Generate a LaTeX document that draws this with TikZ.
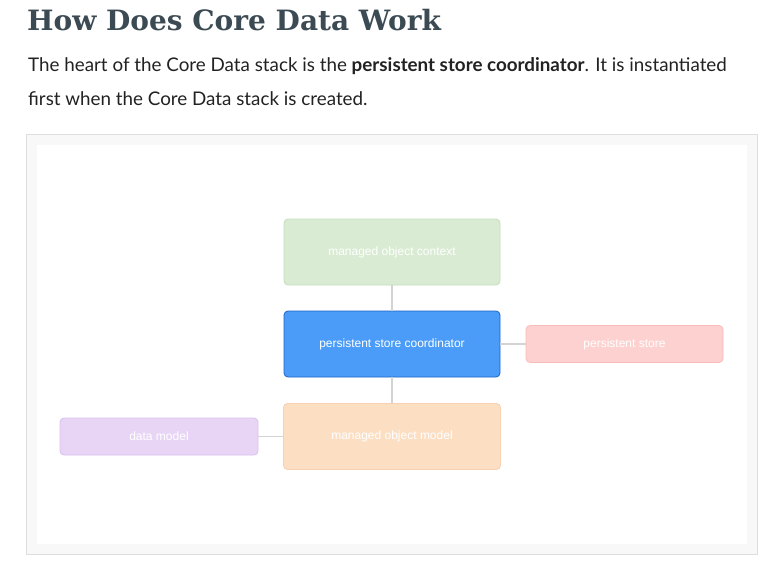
\documentclass[tikz,border=0pt]{standalone}
\usepackage{fontspec}
\setmainfont{Lato}
\newfontfamily\titlefont{DejaVu Serif}
\newfontfamily\boxfont{Liberation Sans}
\definecolor{titlecol}{HTML}{3B4A53}
\definecolor{textcol}{HTML}{222222}
\definecolor{framecol}{HTML}{DCDFE2}
\definecolor{panelbg}{HTML}{F8F8F8}
\definecolor{linkcol}{HTML}{D3D3D3}
\definecolor{mocfill}{HTML}{D9EBD2}
\definecolor{mocdraw}{HTML}{C6DFBD}
\definecolor{pscfill}{HTML}{4A9CF8}
\definecolor{pscdraw}{HTML}{1D65C4}
\definecolor{psfill}{HTML}{FDD1CF}
\definecolor{psdraw}{HTML}{F6BDBB}
\definecolor{dmfill}{HTML}{E8D5F6}
\definecolor{dmdraw}{HTML}{D8C2EC}
\definecolor{momfill}{HTML}{FCDFC3}
\definecolor{momdraw}{HTML}{F6D2B2}
\tikzset{
  cbox/.style={rounded corners=4pt, line width=0.8pt, inner sep=0pt,
    font=\boxfont\fontsize{12}{14}\selectfont, text=white},
  link/.style={draw=linkcol, line width=1.2pt},
}
\begin{document}
\begin{tikzpicture}[x=1pt,y=-1pt]
\useasboundingbox (0,0) rectangle (777,566);
\fill[white] (0,0) rectangle (777,566);
% title and paragraph
\node[anchor=base west, inner sep=0pt, text=titlecol, font=\titlefont\bfseries\fontsize{28}{32}\selectfont] (title) at (27,30) {How Does Core Data Work};
\node[anchor=base west, inner sep=0pt, text=textcol, font=\fontsize{18.8}{22}\selectfont] (line1) at (28,71) {The heart of the Core Data stack is the \textbf{persistent store coordinator}. It is instantiated};
\node[anchor=base west, inner sep=0pt, text=textcol, font=\fontsize{18.8}{22}\selectfont] (line2) at (28,105) {first when the Core Data stack is created.};
% panel
\draw[draw=framecol, fill=panelbg, line width=0.8pt] (26.5,134.5) rectangle (757.5,554.5);
\fill[white] (37,145) rectangle (747,544);
% boxes
\node[cbox, fill=mocfill, draw=mocdraw, minimum width=216pt, minimum height=66pt] (moc) at (392,252) {managed object context};
\node[cbox, fill=pscfill, draw=pscdraw, minimum width=216pt, minimum height=66pt] (psc) at (392,344) {persistent store coordinator};
\node[cbox, fill=psfill, draw=psdraw, minimum width=197pt, minimum height=37pt] (ps) at (624.5,344) {persistent store};
\node[cbox, fill=momfill, draw=momdraw, minimum width=217pt, minimum height=66pt] (mom) at (392,436.5) {managed object model};
\node[cbox, fill=dmfill, draw=dmdraw, minimum width=198pt, minimum height=37pt] (dm) at (159,436.5) {data model};
% connectors
\draw[link] (moc.south) -- (psc.north);
\draw[link] (psc.south) -- (mom.north);
\draw[link] (psc.east) -- (ps.west);
\draw[link] (dm.east) -- (mom.west);
\end{tikzpicture}
\end{document}
